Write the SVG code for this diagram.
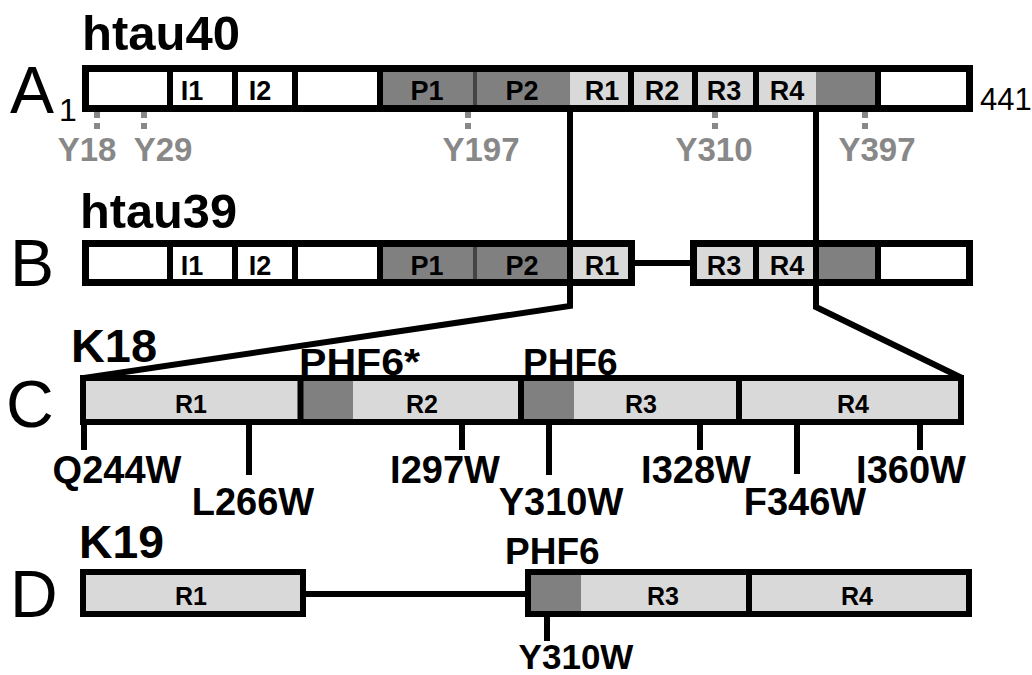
<svg xmlns="http://www.w3.org/2000/svg" width="1032" height="675" viewBox="0 0 1032 675">
<style>
text{font-family:"Liberation Sans",Arial,sans-serif;}
.big{font-size:66px;fill:#000;}
.title{font-size:48px;font-weight:bold;fill:#000;}
.seg{font-size:27px;font-weight:bold;fill:#000;text-anchor:middle;}
.segc{font-size:25px;font-weight:bold;fill:#000;text-anchor:middle;}
.mut{font-size:38px;font-weight:bold;fill:#000;text-anchor:middle;}
.phf{font-size:37px;font-weight:bold;fill:#000;}
.gy{font-size:33px;font-weight:bold;fill:#888;text-anchor:middle;}
.w{fill:#fff;}
.d{fill:#808080;}
.l{fill:#d9d9d9;}
.div{stroke:#000;stroke-width:6;fill:none;}
.box{stroke:#000;stroke-width:7;fill:none;}
.boxc{stroke:#000;stroke-width:6;fill:none;}
.tick{stroke:#000;stroke-width:6;fill:none;}
.gt{stroke:#888;stroke-width:6;stroke-dasharray:6 5;fill:none;}
.con{stroke:#000;stroke-width:6;fill:none;stroke-linejoin:miter;}
</style>

<g id="htau40">
  <text class="title" x="82" y="50" textLength="158" lengthAdjust="spacingAndGlyphs">htau40</text>
  <text class="big" x="10" y="113">A</text>
  <text x="59" y="121" style="font-size:32px;">1</text>
  <rect class="w" x="85" y="68" width="85" height="41"/>
  <rect class="w" x="170" y="68" width="65" height="41"/>
  <rect class="w" x="235" y="68" width="60" height="41"/>
  <rect class="w" x="295" y="68" width="85" height="41"/>
  <rect class="d" x="380" y="68" width="95" height="41"/>
  <rect class="d" x="475" y="68" width="95" height="41"/>
  <rect class="l" x="570" y="68" width="61" height="41"/>
  <rect class="l" x="631" y="68" width="64" height="41"/>
  <rect class="l" x="695" y="68" width="61" height="41"/>
  <rect class="l" x="756" y="68" width="60" height="41"/>
  <rect class="d" x="816" y="68" width="62" height="41"/>
  <rect class="w" x="878" y="68" width="92" height="41"/>
  <path class="div" d="M170,68V109M235,68V109M295,68V109M380,68V109M631,68V109M695,68V109M756,68V109M878,68V109"/>
  <path d="M475,68V109" stroke="#444" stroke-width="4"/>
  <rect class="box" x="85.5" y="68.5" width="884" height="40"/>
  <text class="seg" x="192" y="100">I1</text>
  <text class="seg" x="260" y="100">I2</text>
  <text class="seg" x="427" y="100">P1</text>
  <text class="seg" x="522" y="100">P2</text>
  <text class="seg" x="602" y="100">R1</text>
  <text class="seg" x="662" y="100">R2</text>
  <text class="seg" x="724" y="100">R3</text>
  <text class="seg" x="787" y="100">R4</text>
  <text x="980" y="110" style="font-size:31px;">441</text>
  <path class="gt" d="M97,112V130M144,112V130M468,112V130M715,112V130M865,112V130"/>
  <text class="gy" x="87" y="161">Y18</text>
  <text class="gy" x="163" y="161">Y29</text>
  <text class="gy" x="481" y="161">Y197</text>
  <text class="gy" x="714" y="161">Y310</text>
  <text class="gy" x="877" y="161">Y397</text>
</g>

<g id="htau39">
  <text class="title" x="80" y="228" textLength="157" lengthAdjust="spacingAndGlyphs">htau39</text>
  <text class="big" x="10" y="286">B</text>
  <path class="con" d="M635,263H690"/>
  <rect class="w" x="85" y="243" width="85" height="40"/>
  <rect class="w" x="170" y="243" width="65" height="40"/>
  <rect class="w" x="235" y="243" width="60" height="40"/>
  <rect class="w" x="295" y="243" width="85" height="40"/>
  <rect class="d" x="380" y="243" width="95" height="40"/>
  <rect class="d" x="475" y="243" width="95" height="40"/>
  <rect class="l" x="570" y="243" width="62" height="40"/>
  <path class="div" d="M170,243V283M235,243V283M295,243V283M380,243V283"/>
  <path d="M475,243V283" stroke="#444" stroke-width="4"/>
  <rect class="box" x="85.5" y="243.5" width="546" height="39"/>
  <rect class="l" x="693" y="243" width="63" height="40"/>
  <rect class="l" x="756" y="243" width="60" height="40"/>
  <rect class="d" x="816" y="243" width="62" height="40"/>
  <rect class="w" x="878" y="243" width="92" height="40"/>
  <path class="div" d="M756,243V283M878,243V283"/>
  <rect class="box" x="693.5" y="243.5" width="276" height="39"/>
  <text class="seg" x="192" y="275">I1</text>
  <text class="seg" x="260" y="275">I2</text>
  <text class="seg" x="427" y="275">P1</text>
  <text class="seg" x="522" y="275">P2</text>
  <text class="seg" x="602" y="275">R1</text>
  <text class="seg" x="724" y="275">R3</text>
  <text class="seg" x="787" y="275">R4</text>
</g>

<g id="connectors">
  <path class="con" d="M570,109V306L84,378"/>
  <path class="con" d="M816,109V307L962,378"/>
</g>

<g id="K18">
  <text class="title" x="71" y="362" style="font-size:46px;" textLength="86" lengthAdjust="spacingAndGlyphs">K18</text>
  <text class="big" x="6" y="427">C</text>
  <rect class="l" x="83" y="378" width="878" height="44"/>
  <rect class="d" x="303" y="378" width="50" height="44"/>
  <rect class="d" x="524" y="378" width="50" height="44"/>
  <path class="div" d="M300.5,378V422M521,378V422M739,378V422"/>
  <rect class="boxc" x="83" y="378" width="878" height="44"/>
  <text class="segc" x="191" y="413">R1</text>
  <text class="segc" x="422" y="413">R2</text>
  <text class="segc" x="641" y="413">R3</text>
  <text class="segc" x="853" y="413">R4</text>
  <text class="phf" x="299" y="375" textLength="121" lengthAdjust="spacingAndGlyphs">PHF6*</text>
  <text class="phf" x="523" y="375">PHF6</text>
  <path class="tick" d="M84,425V450M249,425V475M462,425V450M549,425V475M700,425V450M797,425V474M920,425V450"/>
  <text class="mut" x="117" y="483">Q244W</text>
  <text class="mut" x="253" y="515">L266W</text>
  <text class="mut" x="445" y="483">I297W</text>
  <text class="mut" x="561" y="515">Y310W</text>
  <text class="mut" x="696" y="483">I328W</text>
  <text class="mut" x="805" y="515">F346W</text>
  <text class="mut" x="911" y="483">I360W</text>
</g>

<g id="K19">
  <text class="title" x="79" y="558" style="font-size:46px;" textLength="85" lengthAdjust="spacingAndGlyphs">K19</text>
  <text class="big" x="10" y="617">D</text>
  <path class="con" d="M306,594H528"/>
  <rect class="l" x="83" y="572" width="220" height="42"/>
  <rect class="boxc" x="83" y="572" width="220" height="42"/>
  <rect class="l" x="528" y="572" width="441" height="42"/>
  <rect class="d" x="530" y="572" width="51" height="42"/>
  <path class="div" d="M749,572V614"/>
  <rect class="boxc" x="528" y="572" width="441" height="42"/>
  <text class="segc" x="191" y="605">R1</text>
  <text class="segc" x="663" y="605">R3</text>
  <text class="segc" x="857" y="605">R4</text>
  <text class="phf" x="505" y="564">PHF6</text>
  <path class="tick" d="M547,617V641"/>
  <text class="mut" x="576" y="669" style="font-size:35px;">Y310W</text>
</g>
</svg>
